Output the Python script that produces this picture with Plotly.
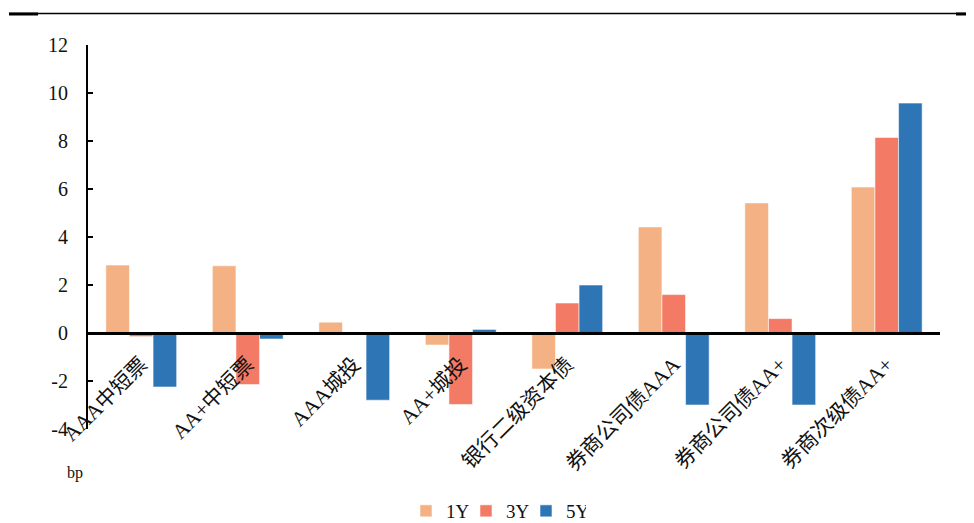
import plotly.graph_objects as go

# Spread changes by bond category (bp)
categories = ["AAA中短票", "AA+中短票", "AAA城投", "AA+城投",
              "银行二级资本债", "券商公司债AAA", "券商公司债AA+", "券商次级债AA+"]
tenors = ["1Y", "3Y", "5Y"]
values_1y = [2.83, 2.80, 0.45, -0.50, -1.50, 4.42, 5.42, 6.08]
values_3y = [-0.15, -2.15, 0.0, -2.98, 1.25, 1.60, 0.60, 8.15]
values_5y = [-2.25, -0.25, -2.80, 0.15, 2.00, -3.00, -3.00, 9.58]
y_ticks = [-4, -2, 0, 2, 4, 6, 8, 10, 12]
colors = ["#F4B183", "#F37A64", "#2E75B6"]

y_min, y_max = -4, 12
W, H = 974, 523
L, R, T, B = 88, 34, 45, 94
pw, ph = W - L - R, H - T - B

def px_x(p):
    return (p - L) / pw

def px_y(p):
    return (H - B - p) / ph

serif = "Liberation Serif, Times New Roman, serif"
label_font = "Liberation Serif, Noto Sans CJK SC, serif"

fig = go.Figure()
for name, vals, col in zip(tenors, [values_1y, values_3y, values_5y], colors):
    fig.add_trace(go.Bar(
        x=categories, y=vals, name=name,
        marker=dict(color=col, line=dict(color="rgba(255,255,255,0.55)", width=1)),
    ))

zero_pos = (0 - y_min) / (y_max - y_min)

fig.update_layout(
    width=W, height=H,
    margin=dict(l=L, r=R, t=T, b=B, autoexpand=False),
    paper_bgcolor="white", plot_bgcolor="white",
    barmode="group", bargap=0.335, bargroupgap=0,
    showlegend=True,
    legend=dict(orientation="h", x=px_x(496), xanchor="center",
                y=px_y(511), yanchor="middle",
                font=dict(family=serif, size=19, color="#111"),
                itemwidth=30, entrywidth=15, entrywidthmode="pixels",
                bgcolor="rgba(0,0,0,0)"),
    xaxis=dict(
        anchor="free", position=zero_pos, automargin=False,
        showline=True, linecolor="black", linewidth=2.5,
        ticks="", tickangle=-45,
        tickfont=dict(family=label_font, size=21, color="#111"),
        ticklabelstandoff=9,
        showgrid=False, zeroline=False,
    ),
    yaxis=dict(
        range=[y_min, y_max], automargin=False,
        tickmode="array", tickvals=y_ticks, ticktext=[str(v) for v in y_ticks],
        showline=True, linecolor="black", linewidth=2,
        ticks="inside", ticklen=5, tickwidth=2, tickcolor="black",
        tickfont=dict(family=serif, size=20, color="#111"),
        ticklabelstandoff=14,
        showgrid=False, zeroline=False,
    ),
    annotations=[
        dict(text="bp", xref="paper", yref="paper", x=px_x(75), y=px_y(473),
             xanchor="center", yanchor="middle", showarrow=False,
             font=dict(family=serif, size=16, color="#111")),
    ],
    shapes=[
        dict(type="line", xref="paper", yref="paper",
             x0=px_x(9), x1=px_x(966), y0=px_y(13.5), y1=px_y(13.5),
             line=dict(color="black", width=1.5)),
        dict(type="line", xref="paper", yref="paper",
             x0=px_x(9), x1=px_x(38), y0=px_y(14), y1=px_y(14),
             line=dict(color="black", width=3)),
        dict(type="line", xref="paper", yref="paper",
             x0=px_x(956), x1=px_x(966), y0=px_y(14), y1=px_y(14),
             line=dict(color="black", width=3)),
    ],
)

fig.write_html("out.html")
